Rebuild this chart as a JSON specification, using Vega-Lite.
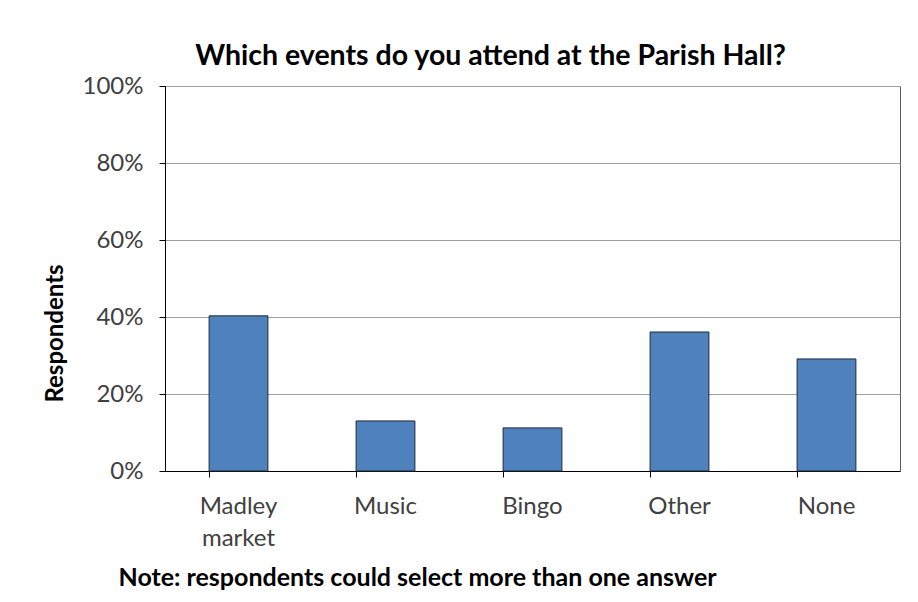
{
  "$schema": "https://vega.github.io/schema/vega-lite/v6.json",
  "autosize": {"type": "none"},
  "padding": {"left": 165, "top": 86, "right": 18, "bottom": 131},
  "width": 735,
  "height": 385,
  "background": "white",
  "title": {
    "text": "Which events do you attend at the Parish Hall?",
    "font": "Lato",
    "fontSize": 28.5,
    "fontWeight": "bold",
    "color": "#000000",
    "anchor": "middle",
    "dx": -42,
    "offset": 4
  },
  "data": {
    "values": [
      {"event": "Madley market", "pct": 0.403},
      {"event": "Music", "pct": 0.130},
      {"event": "Bingo", "pct": 0.112},
      {"event": "Other", "pct": 0.361},
      {"event": "None", "pct": 0.291}
    ]
  },
  "mark": {"type": "bar", "color": "#4F81BD", "stroke": "#1F2A3A", "strokeWidth": 1},
  "encoding": {
    "x": {
      "field": "event",
      "type": "nominal",
      "sort": null,
      "scale": {"paddingInner": 0.6, "paddingOuter": 0.3},
      "axis": {
        "title": "Note: respondents could select more than one answer",
        "titleFont": "Lato",
        "titleFontSize": 25,
        "titleFontWeight": "bold",
        "titleColor": "#000000",
        "titleAnchor": "start",
        "titleAlign": "left",
        "titleBaseline": "middle",
        "titleX": -47,
        "titleY": 106,
        "labelAngle": 0,
        "labelFont": "Lato",
        "labelFontSize": 24,
        "labelColor": "#404040",
        "labelPadding": 17,
        "labelLineHeight": 32,
        "labelExpr": "split(datum.label, ' ')",
        "bandPosition": 0,
        "tickSize": 6,
        "tickColor": "#000000",
        "domainColor": "#000000",
        "grid": false
      }
    },
    "y": {
      "field": "pct",
      "type": "quantitative",
      "scale": {"domain": [0, 1]},
      "axis": {
        "title": "Respondents",
        "titleFont": "Lato",
        "titleFontSize": 24,
        "titleFontWeight": "bold",
        "titleColor": "#000000",
        "titleAngle": 270,
        "titleX": -110,
        "titleY": 247,
        "titleAlign": "center",
        "titleBaseline": "middle",
        "format": ".0%",
        "values": [0, 0.2, 0.4, 0.6, 0.8, 1],
        "labelFont": "Lato",
        "labelFontSize": 24,
        "labelColor": "#404040",
        "labelPadding": 16,
        "tickSize": 6,
        "tickColor": "#000000",
        "domainColor": "#000000",
        "grid": true,
        "gridColor": "#A0A0A0",
        "gridWidth": 1
      }
    }
  },
  "config": {
    "view": {"stroke": "#606060", "strokeWidth": 1},
    "axis": {"domainWidth": 1, "tickWidth": 1}
  }
}
